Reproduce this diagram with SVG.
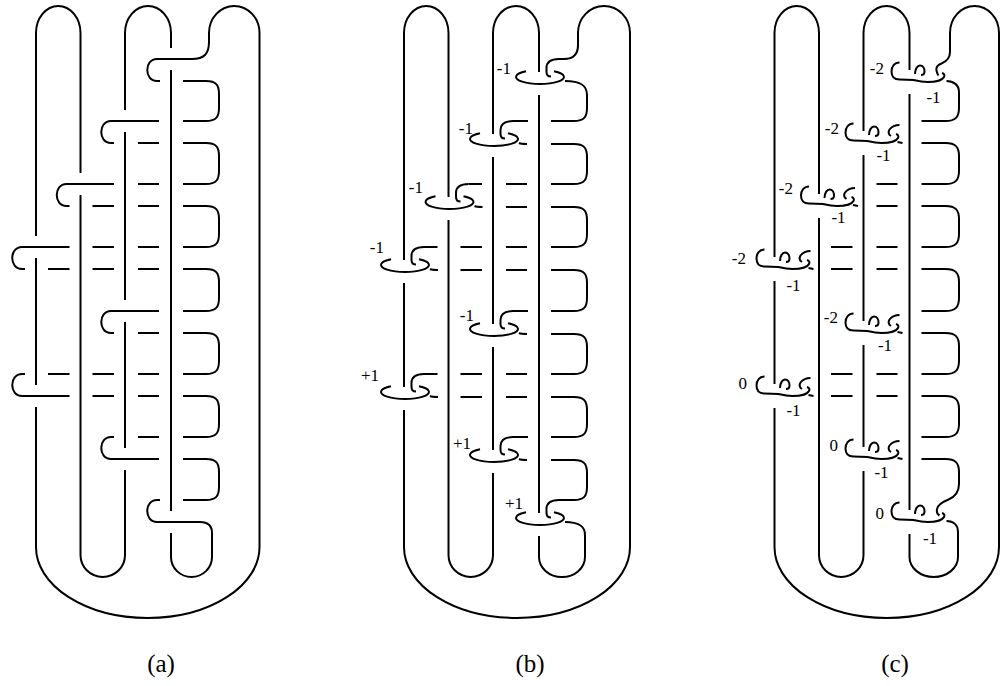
<svg xmlns="http://www.w3.org/2000/svg" width="1000" height="686" viewBox="0 0 1000 686">
<style>
.k{fill:none;stroke:#000;stroke-width:2;stroke-linecap:butt;stroke-linejoin:round}
text{font-family:"Liberation Serif","Times New Roman","DejaVu Serif",serif;fill:#000}
.lb{font-size:17px}
.cap{font-size:25px;text-anchor:middle}
.e{text-anchor:end}
.m{text-anchor:middle}
</style>
<defs>
<path id="hb" class="k" d="M 20,0 C 12,0 7.5,3 7.5,9 V 13 C 7.5,16 9,17.5 12,17.5"/>
<path id="eb" class="k" d="M -13,12.3 A 24 7 0 1 0 15,12.3"/>
<path id="xb" class="k" d="M 26,22 Q 28,23 34,23"/>
<path id="bc" class="k" d="M -10,2.5 C -15,2.5 -18,6.5 -18,11.5 C -18,16.5 -15,19.5 -10,19.5 L 4,20 C 8,21 11,22 18,22 C 26,22 33,20 34.5,17 C 35.5,15 34.5,13.5 32.5,13"/>
<path id="oc" class="k" d="M 5.5,14 C 5.5,9 8,5.5 10.5,5.5 C 13.5,5.5 15,8.5 15,11.5 C 15,13.5 13.5,15 11.5,15"/>
<path id="sc" class="k" d="M 36,4 C 31,4 28,6 26,8.5 C 24.5,11 25,13.5 27.5,15"/>
<path id="xc" class="k" d="M 34,21 L 39,22"/>
</defs>
<rect width="1000" height="686" fill="#fff"/>

<g id="panel-a" class="k">
<path d="M 36,236 V 33 A 22.25 27 0 0 1 80.5,33 V 173"/>
<path d="M 36,258 V 385"/>
<path d="M 36,407 V 547 A 111.75 71 0 0 0 259.5,547 V 33 A 25.25 27 0 0 0 209,33 V 42 C 209,54 204,59 192,59 H 157 C 144,59 144,81 157,81 H 160"/>
<path d="M 80.5,195 V 555 A 22.25 22 0 0 0 125,555 V 470"/>
<path d="M 125,448 V 322"/>
<path d="M 125,300 V 132"/>
<path d="M 125,110 V 33 A 23 27 0 0 1 171,33 V 48"/>
<path d="M 171,70 V 511"/>
<path d="M 171,533 V 557 A 20.5 20 0 0 0 212,557 V 533 C 212,525 208,522 200,522 H 157 C 144,522 144,500 157,500 H 160"/>
<path d="M 183,81 H 206 C 216,81 219,85 219,94 V 108 C 219,117 216,121 206,121 H 183"/>
<path d="M 159,121 H 111 C 98,121 98,143 111,143 H 114"/>
<path d="M 138,143 H 159"/>
<path d="M 183,143 H 206 C 216,143 219,147 219,156 V 171 C 219,180 216,184 206,184 H 183"/>
<path d="M 159,184 H 138 M 114,184 H 66.5 C 53.5,184 53.5,206 66.5,206 H 69.5"/>
<path d="M 92.5,206 H 114 M 138,206 H 159"/>
<path d="M 183,206 H 206 C 216,206 219,210 219,219 V 234 C 219,243 216,247 206,247 H 183"/>
<path d="M 159,247 H 138 M 114,247 H 92.5 M 69.5,247 H 22 C 9,247 9,269 22,269 H 25"/>
<path d="M 48,269 H 69.5 M 92.5,269 H 114 M 138,269 H 159"/>
<path d="M 183,269 H 206 C 216,269 219,273 219,282 V 298 C 219,307 216,311 206,311 H 183"/>
<path d="M 159,311 H 111 C 98,311 98,333 111,333 H 114"/>
<path d="M 138,333 H 159"/>
<path d="M 183,333 H 206 C 216,333 219,337 219,346 V 361 C 219,370 216,374 206,374 H 183"/>
<path d="M 159,374 H 138 M 114,374 H 92.5 M 69.5,374 H 48 M 25,374 H 22 C 9,374 9,396 22,396 H 69.5"/>
<path d="M 92.5,396 H 114 M 138,396 H 159"/>
<path d="M 183,396 H 206 C 216,396 219,400 219,409 V 424 C 219,433 216,437 206,437 H 183"/>
<path d="M 159,437 H 138 M 114,437 H 111 C 98,437 98,459 111,459 H 159"/>
<path d="M 183,459 H 206 C 216,459 219,463 219,472 V 487 C 219,496 216,500 206,500 H 183"/>
</g>

<g id="panel-b" class="k" transform="translate(368,0)">
<path d="M 36,260 V 33 A 22.25 27 0 0 1 80.5,33 V 197"/>
<path d="M 36,283 V 387"/>
<path d="M 36,410 V 547 A 113 71 0 0 0 262,547 V 33 A 26 27 0 0 0 210,33 V 45 C 210,54 205,59 196,59 H 191"/>
<path d="M 80.5,220 V 555 A 22.25 22 0 0 0 125,555 V 473"/>
<path d="M 125,450 V 347"/>
<path d="M 125,324 V 157"/>
<path d="M 125,134 V 33 A 23 27 0 0 1 171,33 V 72"/>
<path d="M 171,95 V 513"/>
<use href="#hb" x="171" y="59"/><use href="#eb" x="171" y="59"/>
<path d="M 197,81 C 212,81 219,85 219,95 V 108 C 219,117 216,121 206,121 H 183"/>
<path d="M 160,121 H 145"/>
<use href="#hb" x="125" y="121"/><use href="#eb" x="125" y="121"/><use href="#xb" x="125" y="121"/>
<path d="M 183,144 H 206 C 216,144 219,148 219,157 V 171 C 219,180 216,184 206,184 H 183"/>
<path d="M 159,184 H 138 M 114,184 H 100.5"/>
<use href="#hb" x="80.5" y="184"/><use href="#eb" x="80.5" y="184"/><use href="#xb" x="80.5" y="184"/>
<path d="M 138,207 H 159"/>
<path d="M 183,207 H 206 C 216,207 219,211 219,220 V 234 C 219,243 216,247 206,247 H 183"/>
<path d="M 159,247 H 138 M 114,247 H 92.5 M 69.5,247 H 56"/>
<use href="#hb" x="36" y="247"/><use href="#eb" x="36" y="247"/><use href="#xb" x="36" y="247"/>
<path d="M 92.5,270 H 114 M 138,270 H 159"/>
<path d="M 183,270 H 206 C 216,270 219,274 219,283 V 298 C 219,307 216,311 206,311 H 183"/>
<path d="M 160,311 H 145"/>
<use href="#hb" x="125" y="311"/><use href="#eb" x="125" y="311"/><use href="#xb" x="125" y="311"/>
<path d="M 183,334 H 206 C 216,334 219,338 219,347 V 361 C 219,370 216,374 206,374 H 183"/>
<path d="M 159,374 H 138 M 114,374 H 92.5 M 69.5,374 H 56"/>
<use href="#hb" x="36" y="374"/><use href="#eb" x="36" y="374"/><use href="#xb" x="36" y="374"/>
<path d="M 92.5,397 H 114 M 138,397 H 159"/>
<path d="M 183,397 H 206 C 216,397 219,401 219,410 V 424 C 219,433 216,437 206,437 H 183"/>
<path d="M 160,437 H 145"/>
<use href="#hb" x="125" y="437"/><use href="#eb" x="125" y="437"/><use href="#xb" x="125" y="437"/>
<path d="M 183,460 H 206 C 216,460 219,464 219,473 V 487 C 219,496 216,500 206,500 H 191"/>
<use href="#hb" x="171" y="500"/><use href="#eb" x="171" y="500"/>
<path d="M 197,522 C 211,522 217,526 217,535 V 557 A 23 20 0 0 1 171,557 V 536"/>
</g>

<g id="panel-c" class="k" transform="translate(738.5,0)">
<path d="M 36,257 V 33 A 22.25 27 0 0 1 80.5,33 V 194"/>
<path d="M 36,281 V 384"/>
<path d="M 36,408 V 547 A 112.25 71 0 0 0 260.5,547 V 33 A 24.5 27 0 0 0 211.5,33 V 52 C 211.5,60 206,62 203,63.5 C 199,65 197.5,68 198,70.5 C 198.5,73 199,74.5 200,75.5"/>
<path d="M 80.5,218 V 555 A 22.25 22 0 0 0 125,555 V 471"/>
<path d="M 125,447 V 345"/>
<path d="M 125,321 V 155"/>
<path d="M 125,131 V 33 A 23 27 0 0 1 171,33 V 70"/>
<path d="M 171,94 V 510"/>
<use href="#bc" x="171" y="60"/><use href="#oc" x="171" y="60"/>
<path d="M 208,81 C 215,81 220.5,85 220.5,92 V 108 C 220.5,117 217,121 207,121 H 183"/>
<use href="#bc" x="125" y="121"/><use href="#oc" x="125" y="121"/><use href="#sc" x="125" y="121"/><use href="#xc" x="125" y="121"/>
<path d="M 183,143 H 207 C 217,143 220.5,147 220.5,156 V 171 C 220.5,180 217,184 207,184 H 183"/>
<path d="M 159,184 H 138"/>
<use href="#bc" x="80.5" y="184"/><use href="#oc" x="80.5" y="184"/><use href="#sc" x="80.5" y="184"/><use href="#xc" x="80.5" y="184"/>
<path d="M 138,206 H 159"/>
<path d="M 183,206 H 207 C 217,206 220.5,210 220.5,219 V 234 C 220.5,243 217,247 207,247 H 183"/>
<path d="M 159,247 H 138 M 114,247 H 92.5"/>
<use href="#bc" x="36" y="247"/><use href="#oc" x="36" y="247"/><use href="#sc" x="36" y="247"/><use href="#xc" x="36" y="247"/>
<path d="M 92.5,269 H 114 M 138,269 H 159"/>
<path d="M 183,269 H 207 C 217,269 220.5,273 220.5,282 V 298 C 220.5,307 217,311 207,311 H 183"/>
<use href="#bc" x="125" y="311"/><use href="#oc" x="125" y="311"/><use href="#sc" x="125" y="311"/><use href="#xc" x="125" y="311"/>
<path d="M 183,333 H 207 C 217,333 220.5,337 220.5,346 V 361 C 220.5,370 217,374 207,374 H 183"/>
<path d="M 159,374 H 138 M 114,374 H 92.5"/>
<use href="#bc" x="36" y="374"/><use href="#oc" x="36" y="374"/><use href="#sc" x="36" y="374"/><use href="#xc" x="36" y="374"/>
<path d="M 92.5,396 H 114 M 138,396 H 159"/>
<path d="M 183,396 H 207 C 217,396 220.5,400 220.5,409 V 424 C 220.5,433 217,437 207,437 H 183"/>
<use href="#bc" x="125" y="437"/><use href="#oc" x="125" y="437"/><use href="#sc" x="125" y="437"/><use href="#xc" x="125" y="437"/>
<path d="M 183,459 H 207 C 217,459 220.5,463 220.5,472 V 484 C 220.5,493 216,497 210,499.5 C 204,502 199,505.5 198.5,509 C 198,512 199,514.5 201,515.5"/>
<use href="#bc" x="171" y="500"/><use href="#oc" x="171" y="500"/>
<path d="M 208,521 C 215,521 219.5,525 219.5,532 V 557 A 24.25 20 0 0 1 171,557 V 534"/>
</g>

<g id="labels-b" class="lb" font-family="Liberation Serif, serif">
<text class="e" x="511" y="74">-1</text>
<text class="e" x="473" y="134">-1</text>
<text class="e" x="423" y="193">-1</text>
<text class="e" x="384" y="253">-1</text>
<text class="e" x="474" y="321">-1</text>
<text class="e" x="379" y="381">+1</text>
<text class="e" x="471" y="449">+1</text>
<text class="e" x="523" y="509">+1</text>
</g>
<g id="labels-c" class="lb" font-family="Liberation Serif, serif">
<text class="e" x="884" y="74">-2</text>
<text class="e" x="839" y="134">-2</text>
<text class="e" x="793" y="194">-2</text>
<text class="e" x="746" y="264">-2</text>
<text class="e" x="838" y="323">-2</text>
<text class="e" x="747" y="389">0</text>
<text class="e" x="838" y="451">0</text>
<text class="e" x="884" y="519">0</text>
<text class="m" x="933.5" y="103">-1</text>
<text class="m" x="883.5" y="161">-1</text>
<text class="m" x="838.5" y="223">-1</text>
<text class="m" x="793.5" y="291">-1</text>
<text class="m" x="885" y="351">-1</text>
<text class="m" x="793.5" y="416">-1</text>
<text class="m" x="881.5" y="478">-1</text>
<text class="m" x="930" y="544">-1</text>
</g>
<g id="captions" font-family="Liberation Serif, serif">
<text class="cap" x="161" y="672">(a)</text>
<text class="cap" x="530" y="672">(b)</text>
<text class="cap" x="895" y="672">(c)</text>
</g>
</svg>
